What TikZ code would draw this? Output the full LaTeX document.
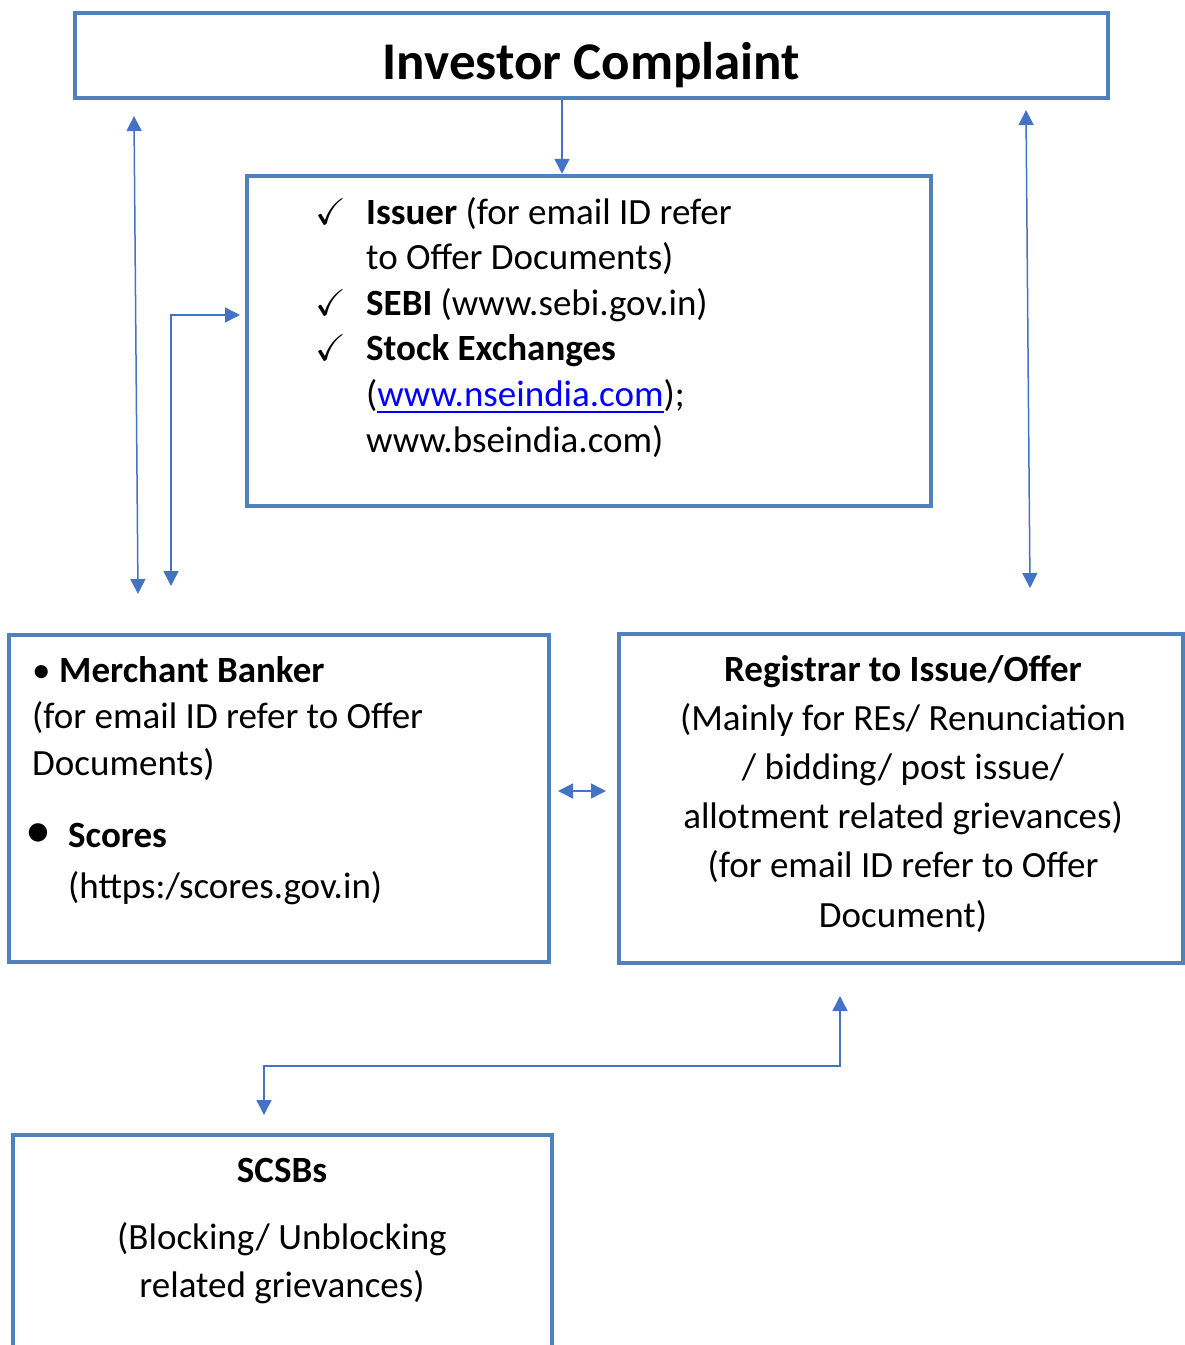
\documentclass[tikz,border=0pt]{standalone}
\usepackage{amssymb}
\usepackage{fontspec}
\setmainfont{Carlito}
\usetikzlibrary{arrows.meta,positioning}
\definecolor{boxblue}{RGB}{79,129,189}
\definecolor{arrblue}{RGB}{68,114,196}
\definecolor{linkblue}{RGB}{0,0,255}
\tikzset{
  box/.style={draw=boxblue,line width=4.5pt,rectangle,inner sep=0pt},
  txt/.style={inner sep=0pt,font=\fontsize{37}{45.6}\selectfont},
  arr/.style={draw=arrblue,line width=1.5pt,-{Triangle[length=15pt,width=15pt]}},
  dbl/.style={draw=arrblue,line width=1.5pt,{Triangle[length=15pt,width=15pt]}-{Triangle[length=15pt,width=15pt]}}
}
\begin{document}
\begin{tikzpicture}[x=1pt,y=-1pt]
\useasboundingbox (0,0) rectangle (1185,1345);
\node[box,minimum width=1033,minimum height=85] (inv) at (591.5,55.5) {};
\node[box,minimum width=684,minimum height=330] (exch) at (589,341) {};
\node[box,minimum width=540,minimum height=327] (mb) at (279,798.5) {};
\node[box,minimum width=564,minimum height=329] (rta) at (901,798.5) {};
\node[box,minimum width=539,minimum height=320] (scsb) at (282.5,1295) {};
% text (base anchor = last line)
\node[inner sep=0pt,anchor=base,font=\fontsize{53}{53}\selectfont\bfseries] (invtxt) at (591.5,79) {Investor Complaint};
\node[txt,anchor=base west,align=left] (exchtxt) at (366,452) {\llap{$\checkmark$\hspace{20pt}}\textbf{Issuer} (for email ID refer\\
to Offer Documents)\\
\llap{$\checkmark$\hspace{20pt}}\textbf{SEBI} (www.sebi.gov.in)\\
\llap{$\checkmark$\hspace{20pt}}\textbf{Stock Exchanges}\\
(\textcolor{linkblue}{\underline{www.nseindia.com}});\\
www.bseindia.com)};
\node[txt,anchor=base west,align=left,font=\fontsize{37}{46.5}\selectfont] (mbtxt) at (32,775) {\makebox[27pt][l]{\textbullet}\textbf{Merchant Banker}\\
(for email ID refer to Offer\\
Documents)};
\node[txt,anchor=base west,align=left,font=\fontsize{37}{50.5}\selectfont] (scorestxt) at (68,898) {\llap{{\fontsize{52}{52}\selectfont\textbullet}\hspace{17pt}}\textbf{Scores}\\
(https:/scores.gov.in)};
\node[txt,anchor=base,align=center,font=\fontsize{37}{49.2}\selectfont] (rtatxt) at (903,927) {\textbf{Registrar to Issue/Offer}\\
(Mainly for REs/ Renunciation\\
/ bidding/ post issue/\\
allotment related grievances)\\
(for email ID refer to Offer\\
Document)};
\node[txt,anchor=base,align=center] (scsbtxt) at (282,1182) {\textbf{SCSBs}};
\node[txt,anchor=base,align=center,font=\fontsize{37}{48}\selectfont] (scsbsub) at (282,1297) {(Blocking/ Unblocking\\
related grievances)};
% connectors
\coordinate (invL) at (134,116);
\coordinate (mbT) at (138,594);
\coordinate (mbT2) at (171,586);
\coordinate (exL) at (240,315);
\coordinate (invR) at (1026,110);
\coordinate (rtaT) at (1030,588);
\coordinate (mbR) at (558,791);
\coordinate (rtaL) at (606,791);
\coordinate (rtaB) at (840,996);
\coordinate (scT) at (264,1115);
\coordinate (bend) at (264,1066);
\draw[arr] ([xshift=-29.5pt]inv.south) -- ([xshift=-27pt]exch.north);
\draw[dbl] (invL) -- (mbT);
\draw[dbl] (mbT2) |- (exL);
\draw[dbl] (invR) -- (rtaT);
\draw[dbl] (mbR) -- (rtaL);
\draw[dbl] (scT) -- (bend) -| (rtaB);
\end{tikzpicture}
\end{document}
